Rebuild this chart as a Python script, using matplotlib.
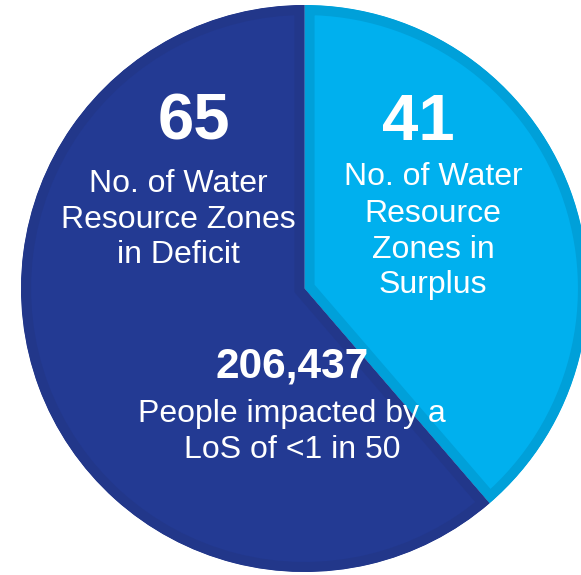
import matplotlib.pyplot as plt
import matplotlib.patches as mpatches

# Pie data (clockwise from 12 o'clock)
labels = ["Surplus", "Deficit"]
values = [41, 65]
face_colors = ["#00B0EE", "#233A93"]
edge_colors = ["#00A0D9", "#22378A"]

plt.rcParams['font.family'] = ['Liberation Sans', 'DejaVu Sans']

fig = plt.figure(figsize=(5.81, 5.75), dpi=100)
ax = fig.add_axes([0, 0, 1, 1])

# pixel-like coordinates
cx, cy, r = 304.5, 575 - 288.5, 283.5
wedges, _ = ax.pie(values, colors=face_colors, startangle=90, counterclock=False,
                   center=(cx, cy), radius=r, frame=True,
                   wedgeprops=dict(linewidth=14.5))
# inner stroke: darker border of same hue, clipped to a copy of the wedge
for w, ec in zip(wedges, edge_colors):
    w.set_edgecolor(ec)
    clip = mpatches.Wedge(w.center, w.r, w.theta1, w.theta2,
                          transform=ax.transData)
    w.set_clip_on(True)  # pie turns clipping off
    w.set_clip_path(clip)

ax.set_xlim(0, 581)
ax.set_ylim(0, 575)
ax.set_aspect('equal')
ax.axis('off')


def Y(py):
    return 575 - py


def lines(x, baselines, texts, size, weight="normal"):
    for b, t in zip(baselines, texts):
        ax.text(x, Y(b), t, color="white", fontsize=size, fontweight=weight,
                ha="center", va="baseline")


lines(194, [140], ["65"], 47, "bold")
lines(178, [192, 228, 263], ["No. of Water", "Resource Zones", "in Deficit"], 23)

lines(418, [140], ["41"], 47, "bold")
lines(433, [185, 222, 258, 293],
      ["No. of Water", "Resource", "Zones in", "Surplus"], 23)

lines(292.5, [378], ["206,437"], 30.5, "bold")
lines(292, [422, 458], ["People impacted by a", "LoS of <1 in 50"], 23)

fig.savefig("out.png", dpi=100)
